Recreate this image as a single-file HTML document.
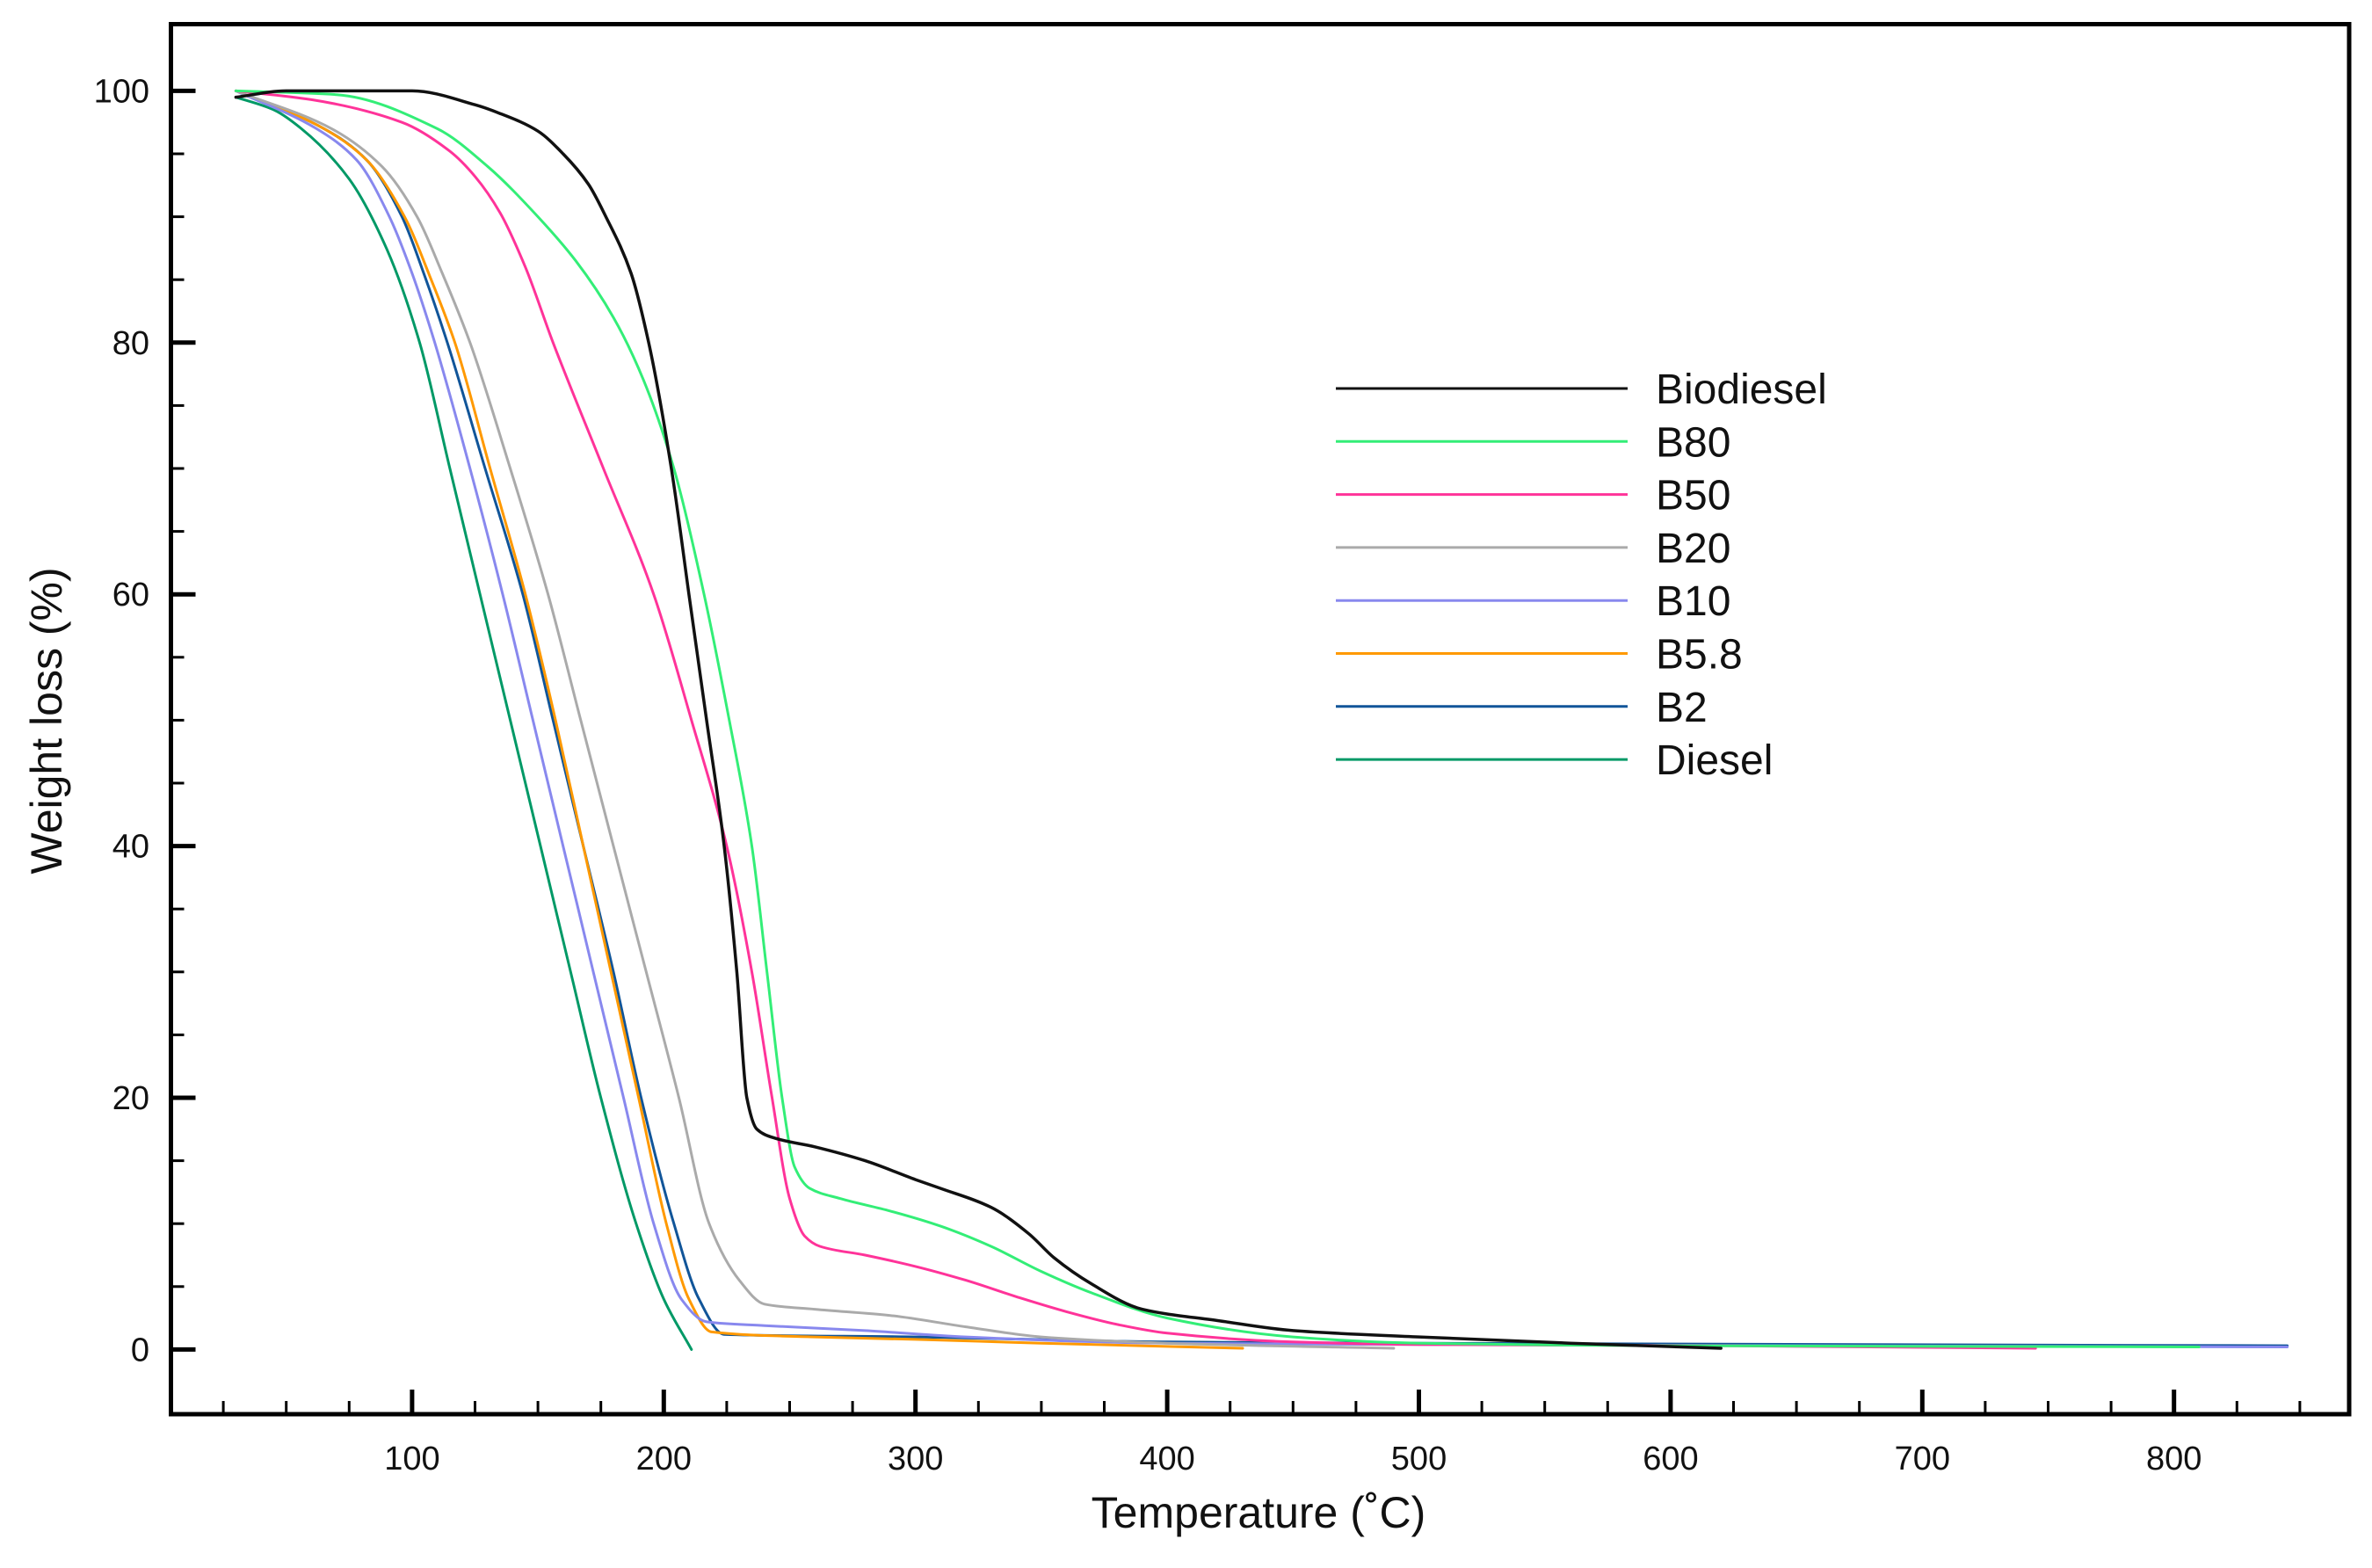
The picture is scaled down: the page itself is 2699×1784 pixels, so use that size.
<!DOCTYPE html>
<html><head><meta charset="utf-8"><style>
html,body{margin:0;padding:0;background:#fff;}
svg text{font-family:"Liberation Sans",sans-serif;fill:#111;}
</style></head><body>
<svg id="chart" width="2699" height="1779" xmlns="http://www.w3.org/2000/svg">
<g id="series"></g>
<g id="axes"></g>
<g id="legend"></g>
</svg>
<script>
const xTicks = [100,200,300,400,500,600,700,800];
const yTicks = [0,20,40,60,80,100];
const seriesNames = ["Biodiesel","B80","B50","B20","B10","B5.8","B2","Diesel"];
const seriesColors = ["#111111","#33ee77","#ff3399","#aaaaaa","#8888ee","#ff9900","#115599","#009966"];
const tBiodiesel = [30,50,100,125,135,150,160,170,177,187,194,203,210,217,224,229,233,237,244,260,280,300,310,330,345,355,370,390,420,450,500,560,620];
const wBiodiesel = [99.5,100,100,98.9,98.2,96.8,95,92.6,90,85.5,80,70,60,50,40,30,20,17.5,16.8,16.1,15,13.5,12.8,11.3,9.2,7.3,5.2,3.2,2.3,1.5,1,0.5,0.1];
const tB80 = [30,70,110,130,150,165,180,192,204,216,226,235,241,247,252,258,270,290,310,330,350,370,400,450,500,600,810];
const wB80 = [100,99.7,97,94,90,86.5,82,77,70,60,50,40,30,20,14.5,12.8,12,11,9.8,8.2,6.2,4.5,2.5,1,0.5,0.3,0.2];
const tB50 = [30,60,96,115,125,135,145,156,176,196,211,225,235,243,250,256,262,280,300,320,340,360,380,400,450,500,620,745];
const wB50 = [100,99.3,97.5,95.2,93.2,90.3,86,80,70,60,50,40,30,20,12,9,8.2,7.5,6.6,5.5,4.2,3,2,1.3,0.6,0.4,0.3,0.1];
const tB20 = [30,68,88,102,112,123,139,154,167,180,193,206,218,230,240,260,290,320,350,400,490];
const wB20 = [100,97,94,90,85.5,80,70,60,50,40,30,20,10,5.5,3.6,3.2,2.7,1.8,1,0.5,0.1];
const tB10 = [30,62,78,91,100,109,123,136,148,160,172,184,196,207,217,240,280,320,400,500,845];
const wB10 = [100,97,94.5,90,85.5,80,70,60,50,40,30,20,10,4,2.2,1.9,1.5,1,0.5,0.4,0.2];
const tB58 = [30,65,82,97,107,117,131,145,157,168,179,190,201,210,219,260,300,350,430];
const wB58 = [100,97,94.5,90,85.3,80,70,60,50,40,30,20,10,4,1.4,1,0.8,0.5,0.1];
const tB2 = [30,65,82,96,105,114,129,144,156,168,180,191,204,214,224,300,400,500,845];
const wB2 = [100,97,94.5,90,85.3,80,70,60,50,40,30,20,10,4,1.2,1,0.6,0.5,0.3];
const tDiesel = [30,45,56,75,90,103,115,127,139,151,163,175,189,200,211];
const wDiesel = [99.5,98.5,97,93,87.4,80,70,60,50,40,30,20,10,4,0];

const NS="http://www.w3.org/2000/svg";
const L=194.5,T=27.5,R=2673,B=1609;
const xS=v=>182.5+v*2.864;
const yS=v=>1535.4-v*14.32;
function mk(tag,attrs,parent){const e=document.createElementNS(NS,tag);for(const k in attrs)e.setAttribute(k,attrs[k]);parent.appendChild(e);return e;}
function monoPath(p){
  const n=p.length,dx=[],sl=[],m=[];
  for(let i=0;i<n-1;i++){dx[i]=p[i+1][0]-p[i][0];sl[i]=(p[i+1][1]-p[i][1])/dx[i];}
  m[0]=sl[0];m[n-1]=sl[n-2];
  for(let i=1;i<n-1;i++){
    if(sl[i-1]*sl[i]<=0)m[i]=0;
    else{const w1=2*dx[i]+dx[i-1],w2=dx[i]+2*dx[i-1];m[i]=(w1+w2)/(w1/sl[i-1]+w2/sl[i]);}
  }
  let d="M"+p[0][0].toFixed(1)+","+p[0][1].toFixed(1);
  for(let i=0;i<n-1;i++){
    const h=dx[i]/3;
    d+=" C"+(p[i][0]+h).toFixed(1)+","+(p[i][1]+m[i]*h).toFixed(1)+" "+(p[i+1][0]-h).toFixed(1)+","+(p[i+1][1]-m[i+1]*h).toFixed(1)+" "+p[i+1][0].toFixed(1)+","+p[i+1][1].toFixed(1);
  }
  return d;
}
const sg=document.getElementById('series'),ag=document.getElementById('axes'),lg=document.getElementById('legend');
const allT=[tBiodiesel,tB80,tB50,tB20,tB10,tB58,tB2,tDiesel];
const allW=[wBiodiesel,wB80,wB50,wB20,wB10,wB58,wB2,wDiesel];
for(let i=allT.length-1;i>=0;i--){
  const pts=allT[i].map((t,j)=>[xS(t),yS(allW[i][j])]);
  const p=mk('path',{d:monoPath(pts),fill:'none',stroke:seriesColors[i],'stroke-width':i==0?3.5:3,'stroke-linejoin':'round','stroke-linecap':'round'},sg);
  
  
}
const box=mk('rect',{x:L,y:T,width:R-L,height:B-T,fill:'none',stroke:'#000','stroke-width':5},ag);


for(let v=25;v<=850;v+=25){
  const major=v%100===0;
  mk('line',{x1:xS(v),x2:xS(v),y1:B,y2:B-(major?28:15),stroke:'#000','stroke-width':major?5:3},ag);
}
xTicks.forEach(v=>{
  const t=mk('text',{x:xS(v),y:1672,'font-size':38,'text-anchor':'middle'},ag);t.textContent=v;
  
  
});
for(let v=0;v<=100;v+=5){
  const major=v%20===0;
  mk('line',{x1:L,x2:L+(major?28:15),y1:yS(v),y2:yS(v),stroke:'#000','stroke-width':major?5:3},ag);
}
yTicks.forEach(v=>{
  const t=mk('text',{x:170,y:yS(v)+13,'font-size':38,'text-anchor':'end'},ag);t.textContent=v;
  
  
});
const xt=mk('text',{x:1432,y:1738,'font-size':50,'text-anchor':'middle'},ag);xt.textContent="Temperature (˚C)";


const yt=mk('text',{x:0,y:0,'font-size':50,'text-anchor':'middle',transform:'translate(70,820) rotate(-90)'},ag);yt.textContent="Weight loss (%)";


seriesNames.forEach((n,i)=>{
  const y=442+i*60.3;
  const ln=mk('line',{x1:1520,x2:1852,y1:y,y2:y,stroke:seriesColors[i],'stroke-width':3},lg);
  
  
  const t=mk('text',{x:1884,y:y+17,'font-size':48},lg);t.textContent=n;
  
  
});
</script>
</body></html>
